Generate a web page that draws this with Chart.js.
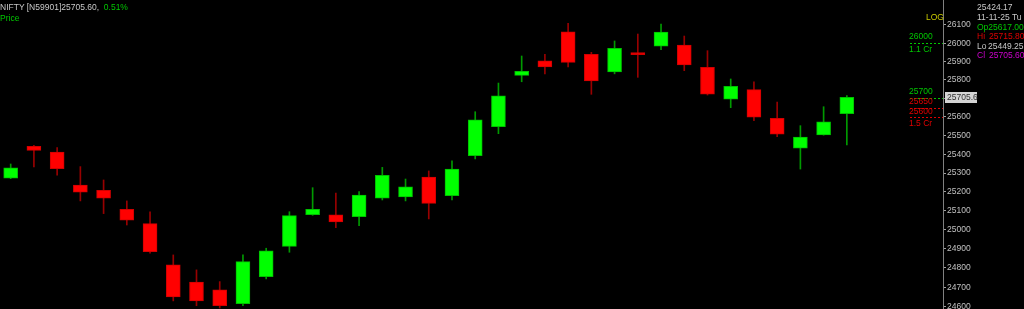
<!DOCTYPE html>
<html>
<head>
<meta charset="utf-8">
<title>NIFTY</title>
<script src="https://cdn.jsdelivr.net/npm/chart.js@4.4.0/dist/chart.umd.min.js"></script>
<style>
  html, body { margin: 0; padding: 0; background: #000; overflow: hidden; }
  #wrap { position: relative; width: 1024px; height: 309px; }
  .t { position: absolute; font: 8.5px "Liberation Sans", Arial, sans-serif; line-height: 10px; white-space: pre; }
</style>
</head>
<body>
<div id="wrap">
  <canvas id="chart"></canvas>

  <div class="t" style="left:0;top:2px;color:#c8c8c8">NIFTY [N59901]25705.60,  <span style="color:#00c800">0.51%</span></div>
  <div class="t" style="left:0;top:13px;color:#00c800">Price</div>

  <div class="t" style="left:926px;top:12px;color:#c8c800">LOG</div>
  <div class="t" style="left:909px;top:31px;color:#00c800">26000</div>
  <div class="t" style="left:909px;top:44px;color:#00c800">1.1 Cr</div>
  <div class="t" style="left:909px;top:86px;color:#00c800">25700</div>
  <div class="t" style="left:909px;top:96px;color:#e00000">25650</div>
  <div class="t" style="left:909px;top:106px;color:#e00000">25600</div>
  <div class="t" style="left:909px;top:118px;color:#e00000">1.5 Cr</div>

  <div class="t" style="left:977px;top:2px;color:#c8c8c8">25424.17</div>
  <div class="t" style="left:977px;top:12px;color:#c8c8c8">11-11-25 Tu</div>
  <div class="t" style="left:977px;top:22px;color:#00c800">Op25617.00</div>
  <div class="t" style="left:977px;top:31px;color:#e00000">Hi</div>
  <div class="t" style="left:989px;top:31px;color:#e00000">25715.80</div>
  <div class="t" style="left:977px;top:41px;color:#c8c8c8">Lo</div>
  <div class="t" style="left:988px;top:41px;color:#c8c8c8">25449.25</div>
  <div class="t" style="left:977px;top:50px;color:#d000d0">Cl</div>
  <div class="t" style="left:989px;top:50px;color:#d000d0">25705.60</div>
</div>

<script>
// daily candles, oldest first
const opens  = [25272, 25442, 25412, 25236, 25208, 25108, 25032, 24816, 24726, 24686, 24615, 24755, 24913, 25079, 25078, 25069, 25166, 25173, 25279, 25180, 25392, 25547, 25825, 25904, 26062, 25939, 25843, 25948, 25984, 25990, 25868, 25696, 25747, 25592, 25432, 25504, 25617];
const highs  = [25348, 25448, 25435, 25334, 25263, 25152, 25095, 24868, 24790, 24729, 24868, 24903, 25095, 25222, 25194, 25201, 25330, 25268, 25311, 25365, 25628, 25783, 25930, 25939, 26108, 25950, 26012, 26050, 26105, 26039, 25959, 25805, 25790, 25680, 25553, 25655, 25715.8];
const lows   = [25270, 25332, 25288, 25152, 25085, 25025, 24877, 24629, 24604, 24592, 24604, 24743, 24882, 25076, 25011, 25021, 25157, 25152, 25057, 25157, 25375, 25510, 25790, 25833, 25870, 25722, 25833, 25814, 25964, 25850, 25718, 25650, 25580, 25494, 25321, 25502, 25449.25];
const closes = [25328, 25421, 25323, 25198, 25166, 25051, 24885, 24649, 24629, 24604, 24833, 24890, 25074, 25108, 25041, 25183, 25288, 25226, 25139, 25321, 25585, 25714, 25846, 25870, 25895, 25795, 25972, 25937, 26061, 25881, 25723, 25765, 25599, 25508, 25492, 25574, 25705.6];

const yTicks = [24600, 24700, 24800, 24900, 25000, 25100, 25200, 25300, 25400, 25500, 25600, 25700, 25800, 25900, 26000, 26100];

// dotted level markers next to the price axis
const levelValues = [26000, 25700, 25650, 25600];
const levelColors = ["#00c800", "#00c800", "#e00000", "#e00000"];

const lastPrice = closes[closes.length - 1];

const isUp = closes.map((c, i) => c >= opens[i]);

const bodies = opens.map((o, i) => ({ x: i, y: [o, closes[i]] }));
const wicks = lows.map((l, i) => ({ x: i, y: [l, highs[i]] }));

const levelPlugin = {
  id: "levels",
  afterDraw(chart) {
    const { ctx, chartArea } = chart;
    const y = chart.scales.y;
    ctx.save();
    ctx.lineWidth = 1;
    ctx.setLineDash([2, 2]);
    levelValues.forEach((v, i) => {
      const py = Math.round(y.getPixelForValue(v)) + 0.5;
      ctx.strokeStyle = levelColors[i];
      ctx.beginPath();
      ctx.moveTo(910, py);
      ctx.lineTo(chartArea.right, py);
      ctx.stroke();
    });
    ctx.setLineDash([]);

    // last price tag on the axis
    const py = Math.round(y.getPixelForValue(lastPrice));
    ctx.fillStyle = "#d4d4d4";
    ctx.fillRect(chartArea.right + 2, py - 5, 32, 11);
    ctx.fillStyle = "#303030";
    ctx.font = '8.5px "Liberation Sans", Arial, sans-serif';
    ctx.textBaseline = "middle";
    ctx.fillText(lastPrice.toFixed(1), chartArea.right + 4, py + 0.5);
    ctx.restore();
  }
};

new Chart(document.getElementById("chart"), {
  type: "bar",
  data: {
    datasets: [
      {
        data: bodies,
        grouped: false,
        order: 0,
        barThickness: 14,
        backgroundColor: isUp.map((u) => (u ? "#00ff00" : "#ff0000")),
        borderColor: isUp.map((u) => (u ? "#00c000" : "#d00000")),
        borderWidth: 1,
        borderSkipped: false
      },
      {
        data: wicks,
        grouped: false,
        order: 1,
        barThickness: 1,
        backgroundColor: isUp.map((u) => (u ? "#009a00" : "#980000")),
        borderWidth: 0
      }
    ]
  },
  options: {
    responsive: true,
    maintainAspectRatio: false,
    animation: false,
    layout: { padding: 0 },
    plugins: {
      legend: { display: false },
      tooltip: { enabled: false }
    },
    scales: {
      x: {
        type: "linear",
        display: false,
        offset: false,
        bounds: "data",
        min: -0.46,
        max: 40.14
      },
      y: {
        type: "logarithmic",
        position: "right",
        min: 24587,
        max: 26237,
        bounds: "data",
        afterFit: (s) => { s.width = 81; s.paddingTop = 0; s.paddingBottom = 0; },
        afterBuildTicks: (s) => { s.ticks = yTicks.map((v) => ({ value: v })); },
        grid: { drawOnChartArea: false, tickLength: 3, color: "#a0a0a0" },
        border: { display: true, color: "#808080", width: 1 },
        ticks: {
          autoSkip: false,
          padding: 1,
          color: "#c0c0c0",
          font: { family: "Liberation Sans", size: 8.5 },
          callback: (v) => String(v)
        }
      }
    }
  },
  plugins: [levelPlugin]
});
</script>
</body>
</html>
